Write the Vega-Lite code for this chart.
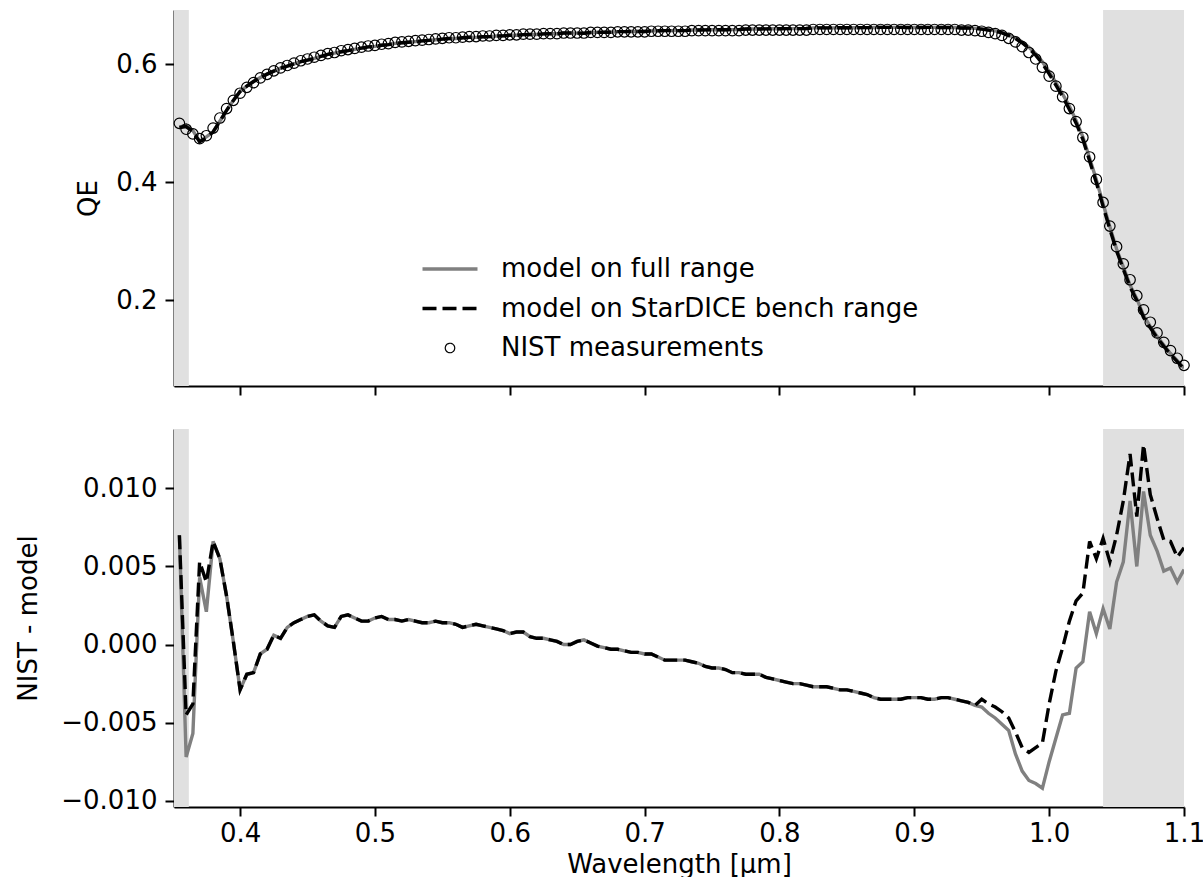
{
  "$schema": "https://vega.github.io/schema/vega-lite/v6.json",
  "padding": {"left": 15, "top": 10, "right": 10, "bottom": 0},
  "spacing": 33,
  "config": {
    "view": {"stroke": null},
    "font": "DejaVu Sans",
    "axis": {"domainColor": "#000", "domainWidth": 2, "tickColor": "#000", "tickWidth": 2, "tickSize": 9, "labelFont": "DejaVu Sans", "labelFontSize": 26, "labelColor": "#000", "titleFont": "DejaVu Sans", "titleFontSize": 26, "titleFontWeight": "normal", "titleColor": "#000", "grid": false, "labelFlush": false, "labelOverlap": false, "labelPadding": 8}
  },
  "datasets": {
    "bands": [{"x1": 0.34, "x2": 0.362}, {"x1": 1.04, "x2": 1.12}],
    "d": [
      {"wl":0.355,"qe":0.500,"mf":0.4930,"mb":0.4930,"rf":0.0070,"rb":0.0070},
      {"wl":0.360,"qe":0.490,"mf":0.4972,"mb":0.4945,"rf":-0.0072,"rb":-0.0045},
      {"wl":0.365,"qe":0.482,"mf":0.4877,"mb":0.4858,"rf":-0.0057,"rb":-0.0038},
      {"wl":0.370,"qe":0.474,"mf":0.4697,"mb":0.4687,"rf":0.0043,"rb":0.0053},
      {"wl":0.375,"qe":0.479,"mf":0.4769,"mb":0.4750,"rf":0.0021,"rb":0.0040},
      {"wl":0.380,"qe":0.492,"mf":0.4854,"mb":0.4854,"rf":0.0066,"rb":0.0066},
      {"wl":0.385,"qe":0.509,"mf":0.5035,"mb":0.5035,"rf":0.0055,"rb":0.0055},
      {"wl":0.390,"qe":0.525,"mf":0.5219,"mb":0.5219,"rf":0.0031,"rb":0.0031},
      {"wl":0.395,"qe":0.539,"mf":0.5388,"mb":0.5388,"rf":0.0002,"rb":0.0002},
      {"wl":0.400,"qe":0.551,"mf":0.5539,"mb":0.5539,"rf":-0.0029,"rb":-0.0029},
      {"wl":0.405,"qe":0.561,"mf":0.5629,"mb":0.5629,"rf":-0.0019,"rb":-0.0019},
      {"wl":0.410,"qe":0.569,"mf":0.5708,"mb":0.5708,"rf":-0.0018,"rb":-0.0018},
      {"wl":0.415,"qe":0.577,"mf":0.5776,"mb":0.5776,"rf":-0.0006,"rb":-0.0006},
      {"wl":0.420,"qe":0.583,"mf":0.5833,"mb":0.5833,"rf":-0.0003,"rb":-0.0003},
      {"wl":0.425,"qe":0.589,"mf":0.5884,"mb":0.5884,"rf":0.0006,"rb":0.0006},
      {"wl":0.430,"qe":0.594,"mf":0.5936,"mb":0.5936,"rf":0.0004,"rb":0.0004},
      {"wl":0.435,"qe":0.598,"mf":0.5969,"mb":0.5969,"rf":0.0011,"rb":0.0011},
      {"wl":0.440,"qe":0.602,"mf":0.6006,"mb":0.6006,"rf":0.0014,"rb":0.0014},
      {"wl":0.445,"qe":0.606,"mf":0.6044,"mb":0.6044,"rf":0.0016,"rb":0.0016},
      {"wl":0.450,"qe":0.609,"mf":0.6072,"mb":0.6072,"rf":0.0018,"rb":0.0018},
      {"wl":0.455,"qe":0.612,"mf":0.6101,"mb":0.6101,"rf":0.0019,"rb":0.0019},
      {"wl":0.460,"qe":0.615,"mf":0.6135,"mb":0.6135,"rf":0.0015,"rb":0.0015},
      {"wl":0.465,"qe":0.618,"mf":0.6168,"mb":0.6168,"rf":0.0012,"rb":0.0012},
      {"wl":0.470,"qe":0.620,"mf":0.6189,"mb":0.6189,"rf":0.0011,"rb":0.0011},
      {"wl":0.475,"qe":0.623,"mf":0.6212,"mb":0.6212,"rf":0.0018,"rb":0.0018},
      {"wl":0.480,"qe":0.625,"mf":0.6231,"mb":0.6231,"rf":0.0019,"rb":0.0019},
      {"wl":0.485,"qe":0.627,"mf":0.6253,"mb":0.6253,"rf":0.0017,"rb":0.0017},
      {"wl":0.490,"qe":0.629,"mf":0.6275,"mb":0.6275,"rf":0.0015,"rb":0.0015},
      {"wl":0.495,"qe":0.631,"mf":0.6295,"mb":0.6295,"rf":0.0015,"rb":0.0015},
      {"wl":0.500,"qe":0.632,"mf":0.6303,"mb":0.6303,"rf":0.0017,"rb":0.0017},
      {"wl":0.505,"qe":0.634,"mf":0.6322,"mb":0.6322,"rf":0.0018,"rb":0.0018},
      {"wl":0.510,"qe":0.635,"mf":0.6334,"mb":0.6334,"rf":0.0016,"rb":0.0016},
      {"wl":0.515,"qe":0.637,"mf":0.6354,"mb":0.6354,"rf":0.0016,"rb":0.0016},
      {"wl":0.520,"qe":0.638,"mf":0.6365,"mb":0.6365,"rf":0.0015,"rb":0.0015},
      {"wl":0.525,"qe":0.639,"mf":0.6374,"mb":0.6374,"rf":0.0016,"rb":0.0016},
      {"wl":0.530,"qe":0.640,"mf":0.6385,"mb":0.6385,"rf":0.0015,"rb":0.0015},
      {"wl":0.535,"qe":0.641,"mf":0.6396,"mb":0.6396,"rf":0.0014,"rb":0.0014},
      {"wl":0.540,"qe":0.642,"mf":0.6406,"mb":0.6406,"rf":0.0014,"rb":0.0014},
      {"wl":0.545,"qe":0.643,"mf":0.6415,"mb":0.6415,"rf":0.0015,"rb":0.0015},
      {"wl":0.550,"qe":0.644,"mf":0.6426,"mb":0.6426,"rf":0.0014,"rb":0.0014},
      {"wl":0.555,"qe":0.645,"mf":0.6436,"mb":0.6436,"rf":0.0014,"rb":0.0014},
      {"wl":0.560,"qe":0.645,"mf":0.6437,"mb":0.6437,"rf":0.0013,"rb":0.0013},
      {"wl":0.565,"qe":0.646,"mf":0.6449,"mb":0.6449,"rf":0.0011,"rb":0.0011},
      {"wl":0.570,"qe":0.647,"mf":0.6458,"mb":0.6458,"rf":0.0012,"rb":0.0012},
      {"wl":0.575,"qe":0.647,"mf":0.6457,"mb":0.6457,"rf":0.0013,"rb":0.0013},
      {"wl":0.580,"qe":0.648,"mf":0.6468,"mb":0.6468,"rf":0.0012,"rb":0.0012},
      {"wl":0.585,"qe":0.648,"mf":0.6469,"mb":0.6469,"rf":0.0011,"rb":0.0011},
      {"wl":0.590,"qe":0.649,"mf":0.6480,"mb":0.6480,"rf":0.0010,"rb":0.0010},
      {"wl":0.595,"qe":0.649,"mf":0.6481,"mb":0.6481,"rf":0.0009,"rb":0.0009},
      {"wl":0.600,"qe":0.650,"mf":0.6493,"mb":0.6493,"rf":0.0007,"rb":0.0007},
      {"wl":0.605,"qe":0.650,"mf":0.6492,"mb":0.6492,"rf":0.0008,"rb":0.0008},
      {"wl":0.610,"qe":0.651,"mf":0.6502,"mb":0.6502,"rf":0.0008,"rb":0.0008},
      {"wl":0.615,"qe":0.651,"mf":0.6505,"mb":0.6505,"rf":0.0005,"rb":0.0005},
      {"wl":0.620,"qe":0.651,"mf":0.6506,"mb":0.6506,"rf":0.0004,"rb":0.0004},
      {"wl":0.625,"qe":0.652,"mf":0.6516,"mb":0.6516,"rf":0.0004,"rb":0.0004},
      {"wl":0.630,"qe":0.652,"mf":0.6517,"mb":0.6517,"rf":0.0003,"rb":0.0003},
      {"wl":0.635,"qe":0.652,"mf":0.6518,"mb":0.6518,"rf":0.0002,"rb":0.0002},
      {"wl":0.640,"qe":0.653,"mf":0.6530,"mb":0.6530,"rf":0.0000,"rb":0.0000},
      {"wl":0.645,"qe":0.653,"mf":0.6530,"mb":0.6530,"rf":0.0000,"rb":0.0000},
      {"wl":0.650,"qe":0.653,"mf":0.6528,"mb":0.6528,"rf":0.0002,"rb":0.0002},
      {"wl":0.655,"qe":0.653,"mf":0.6527,"mb":0.6527,"rf":0.0003,"rb":0.0003},
      {"wl":0.660,"qe":0.654,"mf":0.6539,"mb":0.6539,"rf":0.0001,"rb":0.0001},
      {"wl":0.665,"qe":0.654,"mf":0.6541,"mb":0.6541,"rf":-0.0001,"rb":-0.0001},
      {"wl":0.670,"qe":0.654,"mf":0.6542,"mb":0.6542,"rf":-0.0002,"rb":-0.0002},
      {"wl":0.675,"qe":0.654,"mf":0.6543,"mb":0.6543,"rf":-0.0003,"rb":-0.0003},
      {"wl":0.680,"qe":0.655,"mf":0.6553,"mb":0.6553,"rf":-0.0003,"rb":-0.0003},
      {"wl":0.685,"qe":0.655,"mf":0.6554,"mb":0.6554,"rf":-0.0004,"rb":-0.0004},
      {"wl":0.690,"qe":0.655,"mf":0.6555,"mb":0.6555,"rf":-0.0005,"rb":-0.0005},
      {"wl":0.695,"qe":0.655,"mf":0.6555,"mb":0.6555,"rf":-0.0005,"rb":-0.0005},
      {"wl":0.700,"qe":0.655,"mf":0.6556,"mb":0.6556,"rf":-0.0006,"rb":-0.0006},
      {"wl":0.705,"qe":0.656,"mf":0.6566,"mb":0.6566,"rf":-0.0006,"rb":-0.0006},
      {"wl":0.710,"qe":0.656,"mf":0.6568,"mb":0.6568,"rf":-0.0008,"rb":-0.0008},
      {"wl":0.715,"qe":0.656,"mf":0.6570,"mb":0.6570,"rf":-0.0010,"rb":-0.0010},
      {"wl":0.720,"qe":0.656,"mf":0.6570,"mb":0.6570,"rf":-0.0010,"rb":-0.0010},
      {"wl":0.725,"qe":0.656,"mf":0.6570,"mb":0.6570,"rf":-0.0010,"rb":-0.0010},
      {"wl":0.730,"qe":0.656,"mf":0.6570,"mb":0.6570,"rf":-0.0010,"rb":-0.0010},
      {"wl":0.735,"qe":0.657,"mf":0.6581,"mb":0.6581,"rf":-0.0011,"rb":-0.0011},
      {"wl":0.740,"qe":0.657,"mf":0.6582,"mb":0.6582,"rf":-0.0012,"rb":-0.0012},
      {"wl":0.745,"qe":0.657,"mf":0.6584,"mb":0.6584,"rf":-0.0014,"rb":-0.0014},
      {"wl":0.750,"qe":0.657,"mf":0.6585,"mb":0.6585,"rf":-0.0015,"rb":-0.0015},
      {"wl":0.755,"qe":0.657,"mf":0.6585,"mb":0.6585,"rf":-0.0015,"rb":-0.0015},
      {"wl":0.760,"qe":0.657,"mf":0.6586,"mb":0.6586,"rf":-0.0016,"rb":-0.0016},
      {"wl":0.765,"qe":0.657,"mf":0.6588,"mb":0.6588,"rf":-0.0018,"rb":-0.0018},
      {"wl":0.770,"qe":0.657,"mf":0.6588,"mb":0.6588,"rf":-0.0018,"rb":-0.0018},
      {"wl":0.775,"qe":0.658,"mf":0.6599,"mb":0.6599,"rf":-0.0019,"rb":-0.0019},
      {"wl":0.780,"qe":0.658,"mf":0.6599,"mb":0.6599,"rf":-0.0019,"rb":-0.0019},
      {"wl":0.785,"qe":0.658,"mf":0.6599,"mb":0.6599,"rf":-0.0019,"rb":-0.0019},
      {"wl":0.790,"qe":0.658,"mf":0.6601,"mb":0.6601,"rf":-0.0021,"rb":-0.0021},
      {"wl":0.795,"qe":0.658,"mf":0.6602,"mb":0.6602,"rf":-0.0022,"rb":-0.0022},
      {"wl":0.800,"qe":0.658,"mf":0.6603,"mb":0.6603,"rf":-0.0023,"rb":-0.0023},
      {"wl":0.805,"qe":0.658,"mf":0.6604,"mb":0.6604,"rf":-0.0024,"rb":-0.0024},
      {"wl":0.810,"qe":0.658,"mf":0.6605,"mb":0.6605,"rf":-0.0025,"rb":-0.0025},
      {"wl":0.815,"qe":0.658,"mf":0.6605,"mb":0.6605,"rf":-0.0025,"rb":-0.0025},
      {"wl":0.820,"qe":0.658,"mf":0.6606,"mb":0.6606,"rf":-0.0026,"rb":-0.0026},
      {"wl":0.825,"qe":0.659,"mf":0.6617,"mb":0.6617,"rf":-0.0027,"rb":-0.0027},
      {"wl":0.830,"qe":0.659,"mf":0.6617,"mb":0.6617,"rf":-0.0027,"rb":-0.0027},
      {"wl":0.835,"qe":0.659,"mf":0.6617,"mb":0.6617,"rf":-0.0027,"rb":-0.0027},
      {"wl":0.840,"qe":0.659,"mf":0.6618,"mb":0.6618,"rf":-0.0028,"rb":-0.0028},
      {"wl":0.845,"qe":0.659,"mf":0.6619,"mb":0.6619,"rf":-0.0029,"rb":-0.0029},
      {"wl":0.850,"qe":0.659,"mf":0.6619,"mb":0.6619,"rf":-0.0029,"rb":-0.0029},
      {"wl":0.855,"qe":0.659,"mf":0.6620,"mb":0.6620,"rf":-0.0030,"rb":-0.0030},
      {"wl":0.860,"qe":0.659,"mf":0.6621,"mb":0.6621,"rf":-0.0031,"rb":-0.0031},
      {"wl":0.865,"qe":0.659,"mf":0.6622,"mb":0.6622,"rf":-0.0032,"rb":-0.0032},
      {"wl":0.870,"qe":0.659,"mf":0.6624,"mb":0.6624,"rf":-0.0034,"rb":-0.0034},
      {"wl":0.875,"qe":0.659,"mf":0.6625,"mb":0.6625,"rf":-0.0035,"rb":-0.0035},
      {"wl":0.880,"qe":0.659,"mf":0.6625,"mb":0.6625,"rf":-0.0035,"rb":-0.0035},
      {"wl":0.885,"qe":0.659,"mf":0.6625,"mb":0.6625,"rf":-0.0035,"rb":-0.0035},
      {"wl":0.890,"qe":0.659,"mf":0.6625,"mb":0.6625,"rf":-0.0035,"rb":-0.0035},
      {"wl":0.895,"qe":0.659,"mf":0.6624,"mb":0.6624,"rf":-0.0034,"rb":-0.0034},
      {"wl":0.900,"qe":0.659,"mf":0.6624,"mb":0.6624,"rf":-0.0034,"rb":-0.0034},
      {"wl":0.905,"qe":0.659,"mf":0.6624,"mb":0.6624,"rf":-0.0034,"rb":-0.0034},
      {"wl":0.910,"qe":0.659,"mf":0.6625,"mb":0.6625,"rf":-0.0035,"rb":-0.0035},
      {"wl":0.915,"qe":0.659,"mf":0.6625,"mb":0.6625,"rf":-0.0035,"rb":-0.0035},
      {"wl":0.920,"qe":0.659,"mf":0.6624,"mb":0.6624,"rf":-0.0034,"rb":-0.0034},
      {"wl":0.925,"qe":0.659,"mf":0.6624,"mb":0.6624,"rf":-0.0034,"rb":-0.0034},
      {"wl":0.930,"qe":0.659,"mf":0.6625,"mb":0.6625,"rf":-0.0035,"rb":-0.0035},
      {"wl":0.935,"qe":0.658,"mf":0.6616,"mb":0.6616,"rf":-0.0036,"rb":-0.0036},
      {"wl":0.940,"qe":0.658,"mf":0.6617,"mb":0.6617,"rf":-0.0037,"rb":-0.0037},
      {"wl":0.945,"qe":0.657,"mf":0.6609,"mb":0.6609,"rf":-0.0039,"rb":-0.0039},
      {"wl":0.950,"qe":0.656,"mf":0.6600,"mb":0.6595,"rf":-0.0040,"rb":-0.0035},
      {"wl":0.955,"qe":0.654,"mf":0.6584,"mb":0.6578,"rf":-0.0044,"rb":-0.0038},
      {"wl":0.960,"qe":0.652,"mf":0.6567,"mb":0.6560,"rf":-0.0047,"rb":-0.0040},
      {"wl":0.965,"qe":0.649,"mf":0.6541,"mb":0.6533,"rf":-0.0051,"rb":-0.0043},
      {"wl":0.970,"qe":0.644,"mf":0.6495,"mb":0.6487,"rf":-0.0055,"rb":-0.0047},
      {"wl":0.975,"qe":0.638,"mf":0.6450,"mb":0.6436,"rf":-0.0070,"rb":-0.0056},
      {"wl":0.980,"qe":0.630,"mf":0.6381,"mb":0.6366,"rf":-0.0081,"rb":-0.0066},
      {"wl":0.985,"qe":0.620,"mf":0.6287,"mb":0.6269,"rf":-0.0087,"rb":-0.0069},
      {"wl":0.990,"qe":0.609,"mf":0.6179,"mb":0.6156,"rf":-0.0089,"rb":-0.0066},
      {"wl":0.995,"qe":0.595,"mf":0.6042,"mb":0.6013,"rf":-0.0092,"rb":-0.0063},
      {"wl":1.000,"qe":0.580,"mf":0.5875,"mb":0.5838,"rf":-0.0075,"rb":-0.0038},
      {"wl":1.005,"qe":0.563,"mf":0.5690,"mb":0.5647,"rf":-0.0060,"rb":-0.0017},
      {"wl":1.010,"qe":0.545,"mf":0.5495,"mb":0.5452,"rf":-0.0045,"rb":-0.0002},
      {"wl":1.015,"qe":0.525,"mf":0.5294,"mb":0.5235,"rf":-0.0044,"rb":0.0015},
      {"wl":1.020,"qe":0.503,"mf":0.5045,"mb":0.5002,"rf":-0.0015,"rb":0.0028},
      {"wl":1.025,"qe":0.476,"mf":0.4771,"mb":0.4727,"rf":-0.0011,"rb":0.0033},
      {"wl":1.030,"qe":0.443,"mf":0.4409,"mb":0.4364,"rf":0.0021,"rb":0.0066},
      {"wl":1.035,"qe":0.405,"mf":0.4043,"mb":0.3995,"rf":0.0007,"rb":0.0055},
      {"wl":1.040,"qe":0.366,"mf":0.3637,"mb":0.3592,"rf":0.0023,"rb":0.0068},
      {"wl":1.045,"qe":0.326,"mf":0.3250,"mb":0.3207,"rf":0.0010,"rb":0.0053},
      {"wl":1.050,"qe":0.291,"mf":0.2870,"mb":0.2840,"rf":0.0040,"rb":0.0070},
      {"wl":1.055,"qe":0.262,"mf":0.2567,"mb":0.2528,"rf":0.0053,"rb":0.0092},
      {"wl":1.060,"qe":0.235,"mf":0.2258,"mb":0.2228,"rf":0.0092,"rb":0.0122},
      {"wl":1.065,"qe":0.208,"mf":0.2030,"mb":0.1998,"rf":0.0050,"rb":0.0082},
      {"wl":1.070,"qe":0.184,"mf":0.1742,"mb":0.1712,"rf":0.0098,"rb":0.0128},
      {"wl":1.075,"qe":0.163,"mf":0.1560,"mb":0.1534,"rf":0.0070,"rb":0.0096},
      {"wl":1.080,"qe":0.145,"mf":0.1390,"mb":0.1369,"rf":0.0060,"rb":0.0081},
      {"wl":1.085,"qe":0.129,"mf":0.1243,"mb":0.1223,"rf":0.0047,"rb":0.0067},
      {"wl":1.090,"qe":0.115,"mf":0.1101,"mb":0.1084,"rf":0.0049,"rb":0.0066},
      {"wl":1.095,"qe":0.102,"mf":0.0980,"mb":0.0964,"rf":0.0040,"rb":0.0056},
      {"wl":1.100,"qe":0.090,"mf":0.0852,"mb":0.0838,"rf":0.0048,"rb":0.0062}
    ]
  },
  "vconcat": [
    {
      "width": 1010,
      "height": 376,
      "layer": [
        {
          "data": {"name": "bands"},
          "mark": {"type": "rect", "color": "#e0e0e0", "clip": true},
          "encoding": {
            "x": {"field": "x1", "type": "quantitative", "scale": {"domain": [0.351, 1.1], "nice": false, "zero": false},
                  "axis": {"values": [0.4, 0.5, 0.6, 0.7, 0.8, 0.9, 1.0, 1.1], "labels": false, "title": null}},
            "x2": {"field": "x2"}
          }
        },
        {
          "data": {"name": "d"},
          "mark": {"type": "line", "strokeWidth": 3.4, "clip": true},
          "encoding": {
            "x": {"field": "wl", "type": "quantitative"},
            "y": {"field": "mf", "type": "quantitative", "scale": {"domain": [0.055, 0.692], "nice": false, "zero": false},
                  "axis": {"values": [0.2, 0.4, 0.6], "format": ".1f", "title": "QE", "titleAngle": 270, "titleBaseline": "bottom", "titleAlign": "center", "titleX": -73}},
            "color": {"datum": "full", "type": "nominal",
              "scale": {"domain": ["full", "bench", "NIST"], "range": ["#808080", "#000000", "#000000"]},
              "legend": {
                "orient": "none", "legendX": 263, "legendY": 246, "title": null, "direction": "vertical",
                "symbolSize": 1225, "labelOffset": 38, "rowPadding": 13.5, "labelLimit": 700,
                "labelFont": "DejaVu Sans", "labelFontSize": 26, "labelColor": "#000",
                "labelExpr": "datum.label === 'full' ? 'model on full range' : datum.label === 'bench' ? 'model on StarDICE bench range' : 'NIST measurements'",
                "encode": {"symbols": {"update": {
                  "shape": {"signal": "datum.value === 'NIST' ? 'circle' : 'stroke'"},
                  "size": {"signal": "datum.value === 'NIST' ? 90 : 3025"},
                  "stroke": {"signal": "datum.value === 'full' ? '#808080' : '#000000'"},
                  "strokeDash": {"signal": "datum.value === 'bench' ? [14, 6] : [1, 0]"},
                  "strokeWidth": {"signal": "datum.value === 'NIST' ? 1.2 : 3.4"},
                  "fill": {"value": "transparent"},
                  "opacity": {"value": 1},
                  "strokeOpacity": {"value": 1}
                }}}
              }}
          }
        },
        {
          "data": {"name": "d"},
          "mark": {"type": "line", "strokeWidth": 3.4, "strokeDash": [14, 6], "clip": true},
          "encoding": {
            "x": {"field": "wl", "type": "quantitative"},
            "y": {"field": "mb", "type": "quantitative"},
            "color": {"datum": "bench", "type": "nominal"}
          }
        },
        {
          "data": {"name": "d"},
          "mark": {"type": "point", "shape": "circle", "filled": false, "size": 110, "strokeWidth": 1.2, "opacity": 1},
          "encoding": {
            "x": {"field": "wl", "type": "quantitative"},
            "y": {"field": "qe", "type": "quantitative"},
            "color": {"datum": "NIST", "type": "nominal"}
          }
        }
      ]
    },
    {
      "width": 1010,
      "height": 378,
      "layer": [
        {
          "data": {"name": "bands"},
          "mark": {"type": "rect", "color": "#e0e0e0", "clip": true},
          "encoding": {
            "x": {"field": "x1", "type": "quantitative", "scale": {"domain": [0.351, 1.1], "nice": false, "zero": false},
                  "axis": {"values": [0.4, 0.5, 0.6, 0.7, 0.8, 0.9, 1.0, 1.1], "format": ".1f", "title": "Wavelength [µm]", "labelPadding": 4, "titlePadding": 5}},
            "x2": {"field": "x2"}
          }
        },
        {
          "data": {"name": "d"},
          "mark": {"type": "line", "strokeWidth": 3.4, "color": "#808080", "clip": true},
          "encoding": {
            "x": {"field": "wl", "type": "quantitative"},
            "y": {"field": "rf", "type": "quantitative", "scale": {"domain": [-0.0104, 0.0138], "nice": false, "zero": false},
                  "axis": {"values": [-0.01, -0.005, 0, 0.005, 0.01], "format": ".3f", "title": "NIST - model", "titleAngle": 270, "titleBaseline": "bottom", "titleAlign": "center", "titleX": -133}}
          }
        },
        {
          "data": {"name": "d"},
          "mark": {"type": "line", "strokeWidth": 3.4, "color": "#000000", "strokeDash": [14, 6], "clip": true},
          "encoding": {
            "x": {"field": "wl", "type": "quantitative"},
            "y": {"field": "rb", "type": "quantitative"}
          }
        }
      ]
    }
  ]
}
